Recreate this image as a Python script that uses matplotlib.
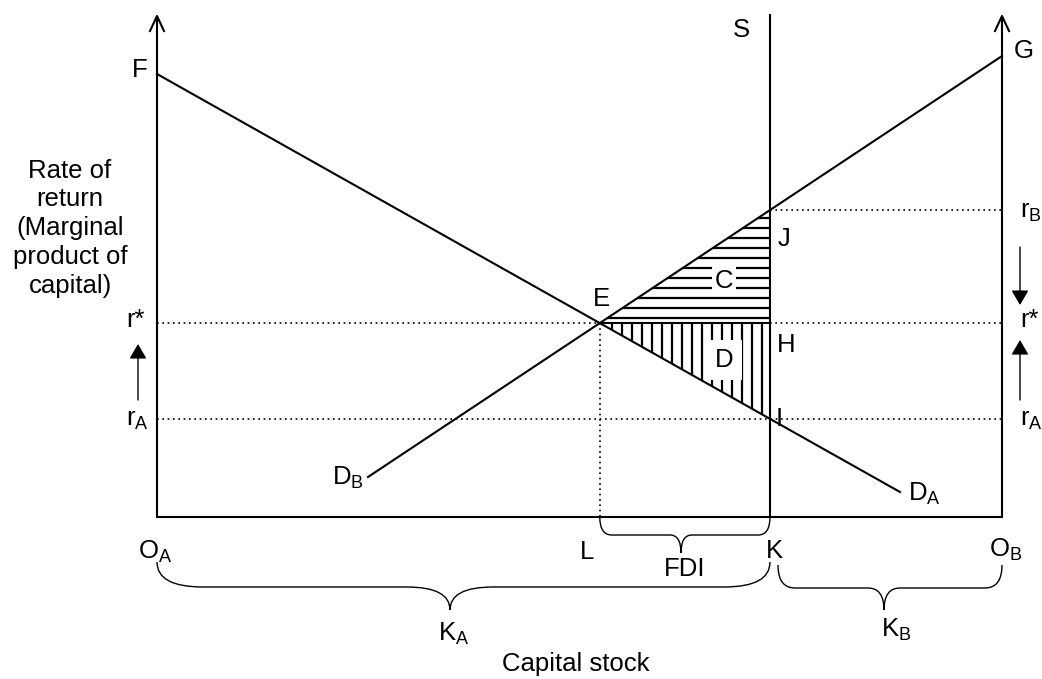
import numpy as np
import matplotlib.pyplot as plt
from matplotlib.path import Path
from matplotlib.patches import PathPatch, Polygon

plt.rcParams['font.family'] = ['Liberation Sans', 'DejaVu Sans']
plt.rcParams['mathtext.default'] = 'regular'

# diagram geometry (pixel-like units, y grows downward)
axis_x = [157, 1002]          # O_A, O_B
axis_top = 16
baseline = 517
supply_x = 770                # S line (K)
supply_top = 15
da_x = [157, 900]             # D_A from F
da_y = [74, 492]
db_x = [368, 1002]            # D_B up to G
db_y = [477, 56]


def line_y(xs, ys, x):
    return ys[0] + (ys[1] - ys[0]) * (x - xs[0]) / (xs[1] - xs[0])


# equilibrium E = intersection of D_A and D_B
m_a = (da_y[1] - da_y[0]) / (da_x[1] - da_x[0])
m_b = (db_y[1] - db_y[0]) / (db_x[1] - db_x[0])
e_x = (db_y[0] - m_b * db_x[0] - da_y[0] + m_a * da_x[0]) / (m_a - m_b)
e_y = line_y(da_x, da_y, e_x)
r_star = e_y
r_b = line_y(db_x, db_y, supply_x)
r_a = line_y(da_x, da_y, supply_x)

fig = plt.figure(figsize=(10.42, 6.79), dpi=100)
ax = fig.add_axes([0, 0, 1, 1])
ax.set_xlim(0, 1042)
ax.set_ylim(679, 0)
ax.axis('off')

k = 'black'
lw = 1.5
dot = (0, (1, 2.2))

# axes with open arrowheads
for x in axis_x:
    ax.plot([x, x], [baseline, axis_top], color=k, lw=lw, solid_capstyle='butt')
    ax.plot([x - 7, x, x + 7], [axis_top + 15, axis_top, axis_top + 15], color=k, lw=lw)
ax.plot(axis_x, [baseline, baseline], color=k, lw=lw)
ax.plot([supply_x, supply_x], [supply_top, baseline], color=k, lw=lw)

# demand curves
ax.plot(da_x, da_y, color=k, lw=lw)
ax.plot(db_x, db_y, color=k, lw=lw)

# dotted guides
ax.plot([supply_x, axis_x[1]], [r_b, r_b], color=k, lw=1.2, ls=dot)
ax.plot([axis_x[0], e_x], [r_star, r_star], color=k, lw=1.2, ls=dot)
ax.plot([supply_x, axis_x[1]], [r_star, r_star], color=k, lw=1.2, ls=dot)
ax.plot(axis_x, [r_a, r_a], color=k, lw=1.2, ls=dot)
ax.plot([e_x, e_x], [r_star, baseline], color=k, lw=1.2, ls=dot)
ax.plot([e_x, supply_x], [r_star, r_star], color=k, lw=lw)

# hatched triangles C (horizontal) and D (vertical)
tri_c = Polygon([(e_x, r_star), (supply_x, r_b), (supply_x, r_star)], closed=True,
                fill=False, edgecolor='none')
tri_d = Polygon([(e_x, r_star), (supply_x, r_star), (supply_x, r_a)], closed=True,
                fill=False, edgecolor='none')
ax.add_patch(tri_c)
ax.add_patch(tri_d)
for y in np.arange(r_b + 8, r_star - 4, 10):
    ln, = ax.plot([e_x, supply_x], [y, y], color=k, lw=1.6)
    ln.set_clip_path(tri_c)
for x in np.arange(e_x + 12, supply_x - 2, 10):
    ln, = ax.plot([x, x], [r_star, r_a], color=k, lw=1.6)
    ln.set_clip_path(tri_d)

fs = 18.5
box = dict(facecolor='white', edgecolor='none', pad=2)
ax.text(724, 281, 'C', fontsize=fs, ha='center', va='center', bbox=box)
ax.text(724, 360, 'D', fontsize=fs, ha='center', va='center',
        bbox=dict(facecolor='white', edgecolor='none', pad=6))

# point labels
labels = [
    (140, 70, 'F'), (1024, 51, 'G'), (741, 30, 'S'), (601, 299, 'E'),
    (784, 239, 'J'), (786, 345, 'H'), (779, 419, 'I'),
]
for x, y, s in labels:
    ax.text(x, y, s, fontsize=fs, ha='center', va='center')

ax.text(1020, 212, '$r_B$', fontsize=fs, ha='left', va='center')
ax.text(1020, 320, 'r*', fontsize=fs, ha='left', va='center')
ax.text(1020, 420, '$r_A$', fontsize=fs, ha='left', va='center')
ax.text(126, 320, 'r*', fontsize=fs, ha='left', va='center')
ax.text(126, 420, '$r_A$', fontsize=fs, ha='left', va='center')
ax.text(332, 478, '$D_B$', fontsize=fs, ha='left', va='center')
ax.text(908, 494, '$D_A$', fontsize=fs, ha='left', va='center')

ax.text(70, 228, 'Rate of\nreturn\n(Marginal\nproduct of\ncapital)', fontsize=fs,
        ha='center', va='center', linespacing=1.25)

# small movement arrows
arr = dict(arrowstyle='-|>,head_length=0.6,head_width=0.35', color=k, lw=1,
           mutation_scale=15, shrinkA=0, shrinkB=0)
ax.annotate('', xy=(1020, 305), xytext=(1020, 247), arrowprops=arr)
ax.annotate('', xy=(1020, 340), xytext=(1020, 400), arrowprops=arr)
ax.annotate('', xy=(138, 344), xytext=(138, 400), arrowprops=arr)

# bottom labels
ax.text(155, 552, '$O_A$', fontsize=fs, ha='center', va='center')
ax.text(587, 552, 'L', fontsize=fs, ha='center', va='center')
ax.text(774, 551, 'K', fontsize=fs, ha='center', va='center')
ax.text(1006, 550, '$O_B$', fontsize=fs, ha='center', va='center')
ax.text(685, 569, 'FDI', fontsize=fs, ha='center', va='center')
ax.text(454, 634, '$K_A$', fontsize=fs, ha='center', va='center')
ax.text(896, 630, '$K_B$', fontsize=fs, ha='center', va='center')
ax.text(502, 664, 'Capital stock', fontsize=fs, ha='left', va='center')


def brace(x0, x1, xm, y0, y1, y2, r0, r1):
    verts = [(x0, y0), (x0, y1), (x0 + r0, y1),
             (xm - r1, y1), (xm, y1), (xm, y2),
             (xm, y1), (xm + r1, y1),
             (x1 - r0, y1), (x1, y1), (x1, y0)]
    codes = [Path.MOVETO, Path.CURVE3, Path.CURVE3,
             Path.LINETO, Path.CURVE3, Path.CURVE3,
             Path.CURVE3, Path.CURVE3,
             Path.LINETO, Path.CURVE3, Path.CURVE3]
    ax.add_patch(PathPatch(Path(verts, codes), fill=False, edgecolor=k, lw=1))


brace(e_x, supply_x, 681, baseline, 535, 553, 12, 11)
brace(axis_x[0], supply_x, 450, 562, 587, 610, 46, 43)
brace(778, axis_x[1], 884, 565, 588, 610, 17, 16)

fig.savefig('out.png', dpi=100)
